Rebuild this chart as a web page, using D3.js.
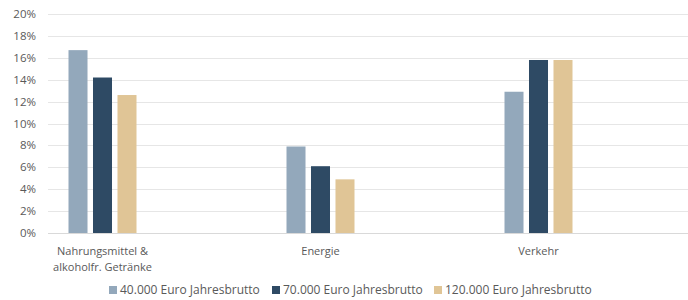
<!DOCTYPE html>
<html>
<head>
<meta charset="utf-8">
<script src="https://cdn.jsdelivr.net/npm/d3@7"></script>
<style>
  body { margin: 0; background: #fff; }
  svg text { font-family: "Open Sans", sans-serif; fill: #595959; }
</style>
</head>
<body>
<div id="chart"></div>
<script>
// Data
const categories = ["Nahrungsmittel &\nalkoholfr. Getränke", "Energie", "Verkehr"];
const seriesNames = ["40.000 Euro Jahresbrutto", "70.000 Euro Jahresbrutto", "120.000 Euro Jahresbrutto"];
const colors = ["#93a8bb", "#2e4a64", "#e0c596"];
const values40k = [16.7, 7.9, 12.9];
const values70k = [14.2, 6.1, 15.8];
const values120k = [12.6, 4.9, 15.8];
const yTicks = [0, 2, 4, 6, 8, 10, 12, 14, 16, 18, 20];

const width = 688;
const height = 300;
const allValues = [values40k, values70k, values120k];

const svg = d3.select("#chart")
    .append("svg")
    .attr("width", width)
    .attr("height", height);

const y = d3.scaleLinear()
    .domain([0, 20])
    .range([233, 14]);

// category centres
const x = d3.scalePoint()
    .domain(categories)
    .range([102.5, 538.5]);

const xInner = d3.scaleBand()
    .domain(seriesNames)
    .range([-34, 34])
    .paddingInner(0.224);

// gridlines
svg.append("g")
    .selectAll("line")
    .data(yTicks)
    .enter()
    .append("line")
    .attr("x1", 48)
    .attr("x2", width)
    .attr("y1", d => Math.round(y(d)) + 0.5)
    .attr("y2", d => Math.round(y(d)) + 0.5)
    .attr("stroke", d => d === 0 ? "#d9d9d9" : "#e6e6e6")
    .attr("stroke-width", 1);

// y labels
svg.append("g")
    .selectAll("text")
    .data(yTicks)
    .enter()
    .append("text")
    .attr("x", 36)
    .attr("y", d => y(d))
    .attr("dy", "0.35em")
    .attr("text-anchor", "end")
    .style("font-size", "11.5px")
    .text(d => d + "%");

// bars
const groups = svg.append("g")
    .selectAll("g")
    .data(categories)
    .enter()
    .append("g")
    .attr("transform", d => `translate(${x(d)},0)`);

groups.selectAll("rect")
    .data((c, ci) => seriesNames.map((s, si) => ({ s: s, v: allValues[si][ci], color: colors[si] })))
    .enter()
    .append("rect")
    .attr("x", d => xInner(d.s))
    .attr("width", xInner.bandwidth())
    .attr("y", d => y(d.v))
    .attr("height", d => y(0) - y(d.v))
    .attr("fill", d => d.color);

// category labels
const catLabels = svg.append("g")
    .selectAll("text")
    .data(categories)
    .enter()
    .append("text")
    .attr("x", d => x(d))
    .attr("y", 255)
    .attr("text-anchor", "middle")
    .style("font-size", "11px");

catLabels.selectAll("tspan")
    .data(d => d.split("\n"))
    .enter()
    .append("tspan")
    .attr("x", function () { return d3.select(this.parentNode).attr("x"); })
    .attr("dy", (d, i) => i === 0 ? 0 : 16)
    .text(d => d);

// legend
const legendX = [109, 272, 434];
const legend = svg.append("g")
    .selectAll("g")
    .data(seriesNames)
    .enter()
    .append("g")
    .attr("transform", (d, i) => `translate(${legendX[i]},286)`);

legend.append("rect")
    .attr("width", 8)
    .attr("height", 8)
    .attr("fill", (d, i) => colors[i]);

legend.append("text")
    .attr("x", 11)
    .attr("y", 4)
    .attr("dy", "0.35em")
    .style("font-size", "12px")
    .text(d => d);
</script>
</body>
</html>
